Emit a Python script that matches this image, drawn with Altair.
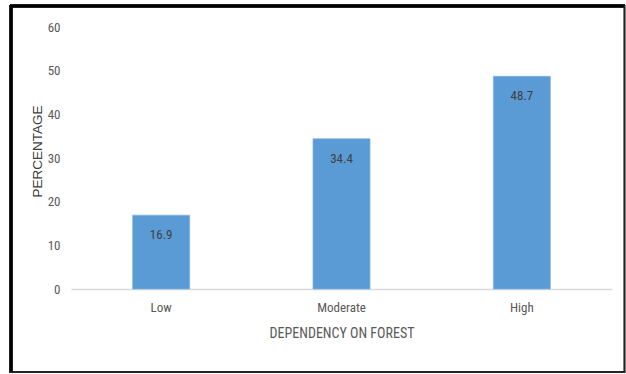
import altair as alt
import pandas as pd

# Share of households by level of forest dependency
levels = ["Low", "Moderate", "High"]
percentages = [16.9, 34.4, 48.7]

df = pd.DataFrame({"level": levels, "pct": percentages})

W, H = 541, 262
LEFT, TOP = 71, 27
GRAY = "#595959"
BAR = "#5b9bd5"
NARROW = "Liberation Sans Narrow, Arial Narrow, Roboto Condensed, Liberation Sans, sans-serif"

x_enc = alt.X(
    "level:N",
    sort=levels,
    scale=alt.Scale(paddingInner=0.684, paddingOuter=0.342),
    axis=alt.Axis(
        title="DEPENDENCY ON FOREST",
        labelAngle=0,
        labelColor=GRAY,
        labelFont=NARROW,
        labelFontSize=13,
        labelPadding=12,
        ticks=False,
        domainColor="#d9d9d9",
        domainWidth=1.5,
        titleColor=GRAY,
        titleFont=NARROW,
        titleFontSize=14,
        titleFontWeight="normal",
        titlePadding=12,
    ),
)

y_enc = alt.Y(
    "pct:Q",
    scale=alt.Scale(domain=[0, 60], nice=False),
    axis=alt.Axis(
        title="PERCENTAGE",
        values=[0, 10, 20, 30, 40, 50, 60],
        grid=False,
        domain=False,
        ticks=False,
        labelColor=GRAY,
        labelFont=NARROW,
        labelFontSize=13,
        labelPadding=11,
        titleColor="#404040",
        titleFont="Liberation Sans, Arial, sans-serif",
        titleFontSize=13.5,
        titleFontWeight="normal",
        titlePadding=3,
        titleY=124,
    ),
)

bars = alt.Chart(df).mark_bar(color=BAR, stroke="#7fb2e0", strokeWidth=0.8).encode(
    x=x_enc, y=y_enc
)

labels = alt.Chart(df).mark_text(
    baseline="middle", dy=20, fontSize=13, color="#404040", font=NARROW
).encode(x=alt.X("level:N", sort=levels), y="pct:Q", text=alt.Text("pct:Q", format=".1f"))

# Outer frame around the whole figure
frame_left = alt.Chart(df).mark_rule(color="black", strokeWidth=3).encode(
    x=alt.value(11 - LEFT), y=alt.value(5 - TOP), y2=alt.value(373 - TOP)
)
frame_top = alt.Chart(df).mark_rule(color="black", strokeWidth=3).encode(
    x=alt.value(10 - LEFT), x2=alt.value(625 - LEFT), y=alt.value(6 - TOP)
)
frame_right = alt.Chart(df).mark_rule(color="#222222", strokeWidth=1.5).encode(
    x=alt.value(624.5 - LEFT), y=alt.value(5 - TOP), y2=alt.value(373 - TOP)
)
frame_bottom = alt.Chart(df).mark_rule(color="#222222", strokeWidth=1.5).encode(
    x=alt.value(10 - LEFT), x2=alt.value(625 - LEFT), y=alt.value(372 - TOP)
)

chart = (
    alt.layer(bars, labels, frame_left, frame_top, frame_right, frame_bottom)
    .properties(
        width=W,
        height=H,
        autosize=alt.AutoSizeParams(type="none"),
        padding={"left": LEFT, "top": TOP, "right": 626 - LEFT - W, "bottom": 374 - TOP - H},
        background="white",
    )
    .configure_view(stroke=None)
)

chart.save("out.html", embed_options={"renderer": "svg", "actions": False})
